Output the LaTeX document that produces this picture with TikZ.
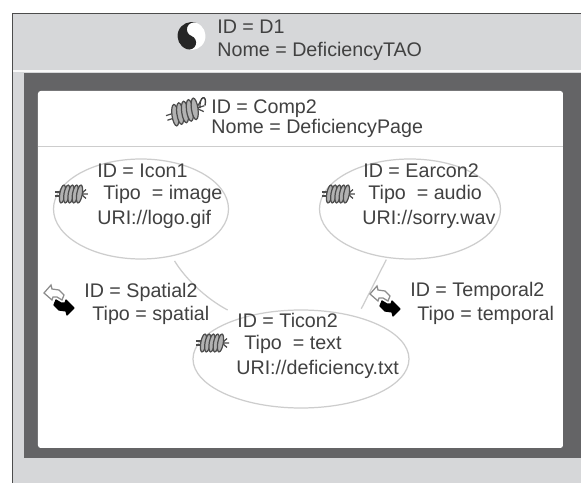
\documentclass[tikz,border=0pt]{standalone}
\usepackage{fontspec}
\setmainfont{Liberation Sans}
\definecolor{panelgray}{RGB}{214,215,217}
\definecolor{framegray}{RGB}{100,100,102}
\definecolor{linegray}{RGB}{205,205,205}
\definecolor{textgray}{RGB}{65,65,65}
\tikzset{
    txt/.style={anchor=base west, inner sep=0pt, text=textgray, font=\fontsize{11.2}{13}\selectfont},
    oval/.style={draw=linegray, ellipse, line width=.7pt, inner sep=0pt},
    link/.style={draw=linegray, line width=.7pt},
    pics/spring/.style={code={
        \draw[black!70, line width=.7pt] (-.32,.04) -- (-.16,.04) (-.32,-.04) -- (-.16,-.04);
        \draw[black!70, line width=.7pt] (.2,0) -- (.3,.09) (.2,0) -- (.3,-.09) (.2,0) -- (.34,0);
        \foreach \i in {-.17,-.085,0,.085,.17}
            \draw[black!70, fill=black!30, line width=.7pt, rotate around={-10:(\i,0)}] (\i,0) ellipse (.055 and .18);
    }},
    pics/swap/.style={code={
        \draw[black!45, fill=white, line width=.7pt, x=.02cm, y=-.02cm] (-15,-7) -- (-8,-15) -- (-7,-11) -- (0,-10) -- (5,-5) -- (3,0) -- (-2,-3) -- (-6,-3) -- (-7,0) -- cycle;
        \draw[black, fill=black, line width=.7pt, line join=round, x=.02cm, y=-.02cm] (15,8) -- (8,15) -- (7,11) -- (0,10) -- (-5,5) -- (-3,0) -- (2,3) -- (6,3) -- (7,0) -- cycle;
    }},
    pics/yinyang/.style={code={
        \fill[white] (0,0) circle (.28);
        \fill[black!85] (0,.28) arc[start angle=90, end angle=270, radius=.28] arc[start angle=-90, end angle=90, radius=.14] arc[start angle=-90, end angle=-270, radius=.14];
        \fill[white] (0,.14) circle (.05);
        \fill[black!85] (0,-.14) circle (.05);
    }},
}
\usetikzlibrary{shapes.geometric}
\begin{document}
\begin{tikzpicture}
    \useasboundingbox (0,0) rectangle (11.62,9.66);
    \fill[white] (0,0) rectangle (11.62,9.66);
    \draw[fill=panelgray, draw=black!70]  (.24,-.1) rectangle (11.8,9.40);
    \fill[framegray]  (.48,.50) rectangle (11.62,8.20);
    \draw[white!85!panelgray, line width=.6pt] (.26,8.24) -- (11.62,8.24);
    \fill[white, rounded corners=1.5pt]  (.76,.70) rectangle (11.26,7.84);
    \draw[linegray] (.76,6.74) -- (11.26,6.74);

    \node[oval, minimum width=3.5cm, minimum height=2cm] (icon1) at (2.82,5.48) {};
    \node[oval, minimum width=3.62cm, minimum height=2cm] (earcon2) at (8.20,5.48) {};
    \node[oval, minimum width=4.32cm, minimum height=1.96cm] (ticon2) at (6.02,2.48) {};

    \draw[link, shorten <=3pt, shorten >=9pt] (icon1.-57) .. controls (3.7,4.1) and (4.1,3.7) .. (ticon2.145);
    \draw[link, shorten <=1pt, shorten >=5pt] (earcon2.-115) -- (ticon2.37);

    \pic[rotate=-20] at (3.83,8.94) {yinyang};
    \pic[rotate=18, scale=1.2] at (3.70,7.42) {spring};
    \draw[black!75, line width=.8pt] (4.0,7.5) .. controls (3.98,7.75) and (4.15,7.78) .. (4.1,7.55);
    \pic at (1.42,5.78) {spring};
    \pic at (6.76,5.78) {spring};
    \pic at (4.24,2.80) {spring};
    \pic at (1.18,3.66) {swap};
    \pic at (7.70,3.64) {swap};

    \node[txt] (d1id) at (4.34,9.0) {ID = D1};
    \node[txt] (d1nome) at (4.34,8.52) {Nome = DeficiencyTAO};
    \node[txt] (compid) at (4.22,7.40) {ID = Comp2};
    \node[txt] (compnome) at (4.22,6.98) {Nome = DeficiencyPage};
    \node[txt] (icon1id) at (1.94,6.10) {ID = Icon1};
    \node[txt] (icon1tipo) at (2.06,5.66) {Tipo \ = image};
    \node[txt] (icon1uri) at (1.94,5.18) {URI://logo.gif};
    \node[txt] (earconid) at (7.26,6.10) {ID = Earcon2};
    \node[txt] (earcontipo) at (7.36,5.66) {Tipo \ = audio};
    \node[txt] (earconuri) at (7.24,5.18) {URI://sorry.wav};
    \node[txt] (ticonid) at (4.74,3.10) {ID = Ticon2};
    \node[txt] (ticontipo) at (4.88,2.66) {Tipo \ = text};
    \node[txt] (ticonuri) at (4.72,2.16) {URI://deficiency.txt};
    \node[txt] (spatialid) at (1.68,3.70) {ID = Spatial2};
    \node[txt] (spatialtipo) at (1.84,3.24) {Tipo = spatial};
    \node[txt] (temporalid) at (8.20,3.72) {ID = Temporal2};
    \node[txt] (temporaltipo) at (8.34,3.26) {Tipo = temporal};
\end{tikzpicture}
\end{document}
